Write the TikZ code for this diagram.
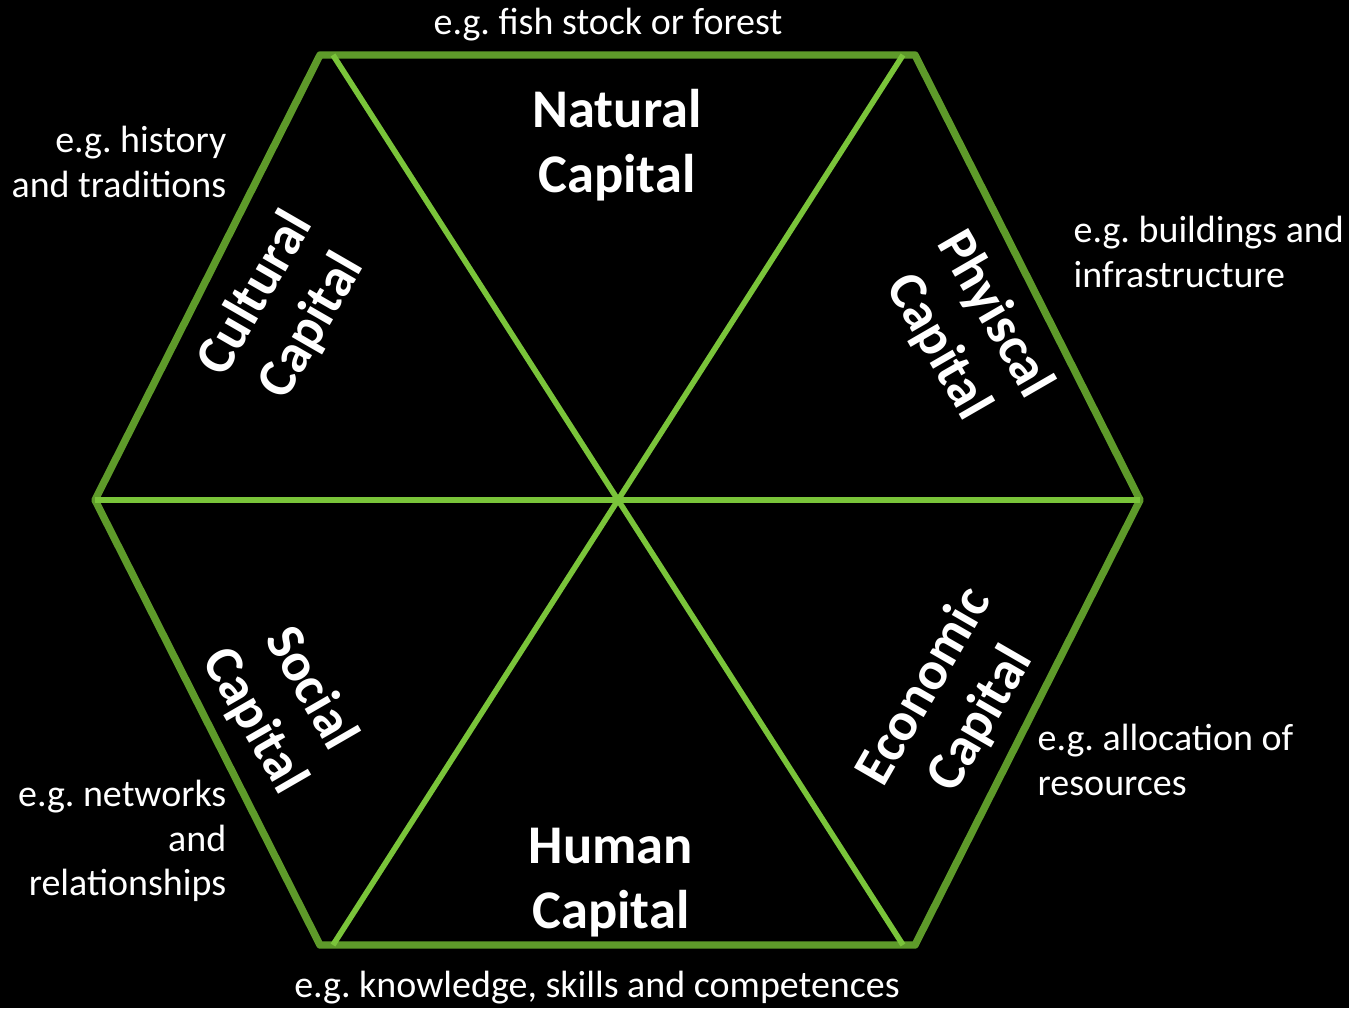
\documentclass[tikz,border=0pt]{standalone}
\usepackage{fontspec}
\setmainfont{Carlito}
\usepackage{tikz}
\usetikzlibrary{positioning}
\usetikzlibrary{calc}
\definecolor{rimgreen}{RGB}{94,154,42}
\definecolor{spokegreen}{RGB}{122,196,58}
\tikzstyle{rim}=[draw=rimgreen,line width=2.1pt,line join=round]
\tikzstyle{spoke}=[draw=spokegreen,line width=1.6pt]
\tikzstyle{capital}=[text=white,font=\fontsize{15.5}{18.5}\selectfont\bfseries,align=center,inner sep=0pt]
\tikzstyle{example}=[text=white,font=\fontsize{10.8}{12.6}\selectfont,inner sep=0pt]

\begin{document}
\frenchspacing
\begin{tikzpicture}[x=0.01cm,y=-0.01cm]
    % Black page
    \fill[black] (0,0) rectangle (1349,1008);
    \useasboundingbox (0,0) rectangle (1349,1008);
    % First we set the corners and the spoke ends
    \foreach \pos/\name in {{(320,55)/h1}, {(915,55)/h2}, {(1140,500)/h3}, {(915,945)/h4}, {(320,945)/h5}, {(95,500)/h6}, {(333,55)/s1}, {(903,55)/s2}, {(333,945)/s3}, {(903,945)/s4}}
        \node[coordinate] (\name) at \pos {};

    % The outer hexagon, then the spokes on top
    \draw[rim] (h1) -- (h2) -- (h3) -- (h4) -- (h5) -- (h6) -- cycle;
    \foreach \source/\dest in {s1/s4, s2/s3, h6/h3}
        \path[spoke] (\source) -- (\dest);

    % Names of the six capitals
    \foreach \pos/\name/\angle/\txt in {{(617,145)/natural/0/{Natural\\Capital}}, {(611,883)/human/0/{Human\\Capital}}, {(284,310)/cultural/60/{Cultural\\Capital}}, {(966,331)/physical/-60/{Phyiscal\\Capital}}, {(282,705)/social/-60/{Social\\Capital}}, {(953,703)/economic/60/{Economic\\Capital}}}
        \node[capital, rotate=\angle] (\name) at \pos {\txt};

    % Examples round the outside
    \node[example] (ex-natural) at (608,25) {e.g. fish stock or forest};
    \node[example] (ex-human) at (597,988) {e.g. knowledge, skills and competences};
    \node[example, anchor=east, align=right] (ex-cultural) at (227,162) {e.g. history\\and traditions};
    \node[example, anchor=west, align=left] (ex-physical) at (1073,252) {e.g. buildings and\\infrastructure};
    \node[example, anchor=west, align=left] (ex-economic) at (1037,760) {e.g. allocation of\\resources};
    \node[example, anchor=east, align=right] (ex-social) at (227,841) {e.g. networks\\and\\relationships};
\end{tikzpicture}
\end{document}
